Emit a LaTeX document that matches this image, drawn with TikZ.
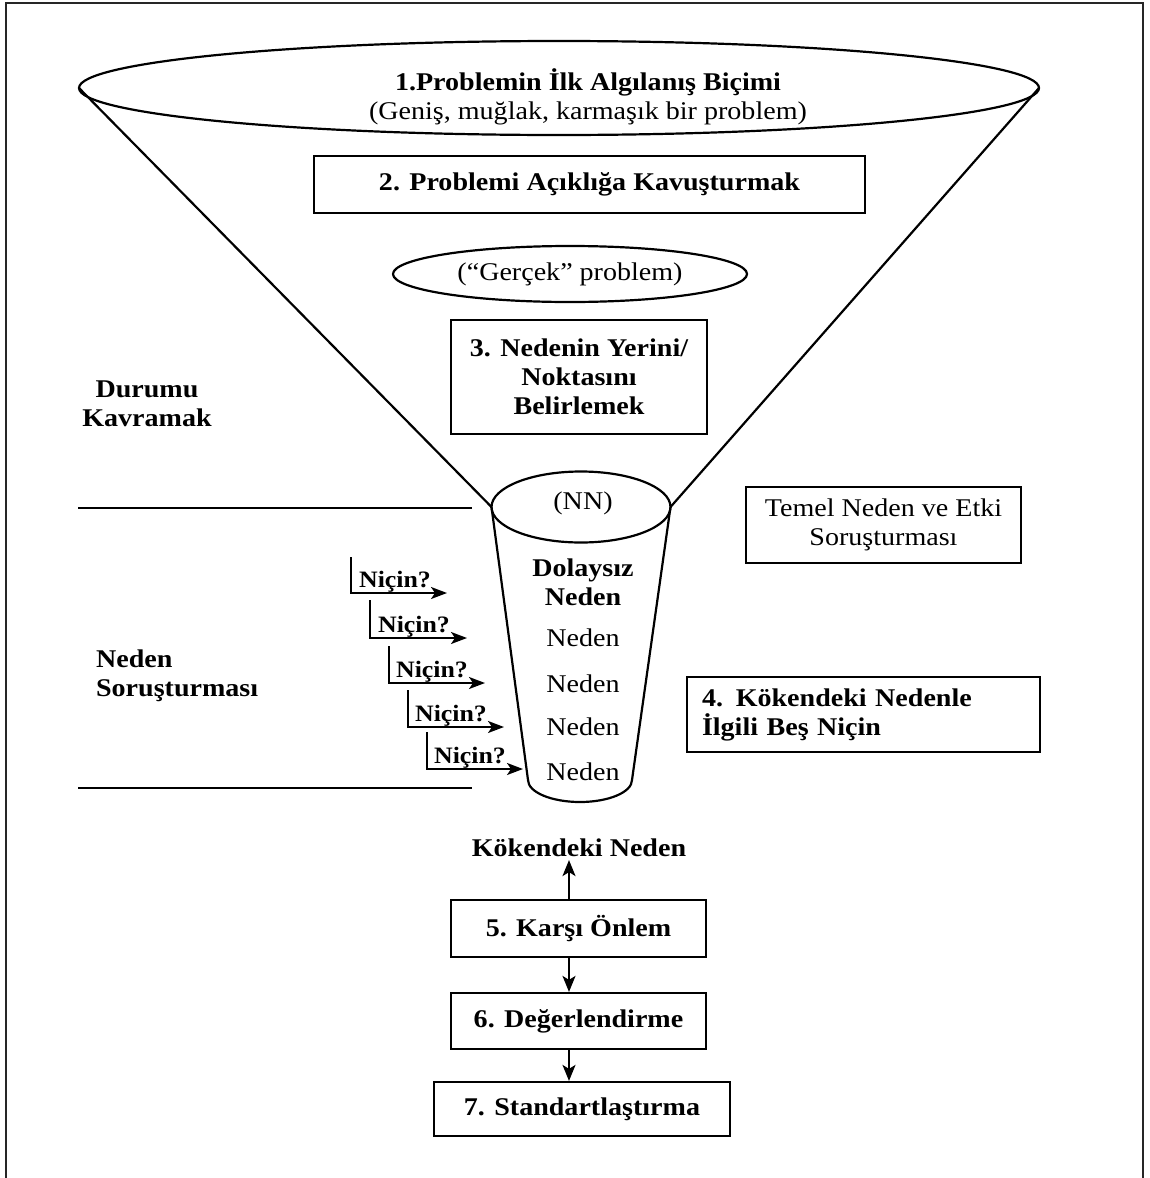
\documentclass[tikz,border=0pt]{standalone}
\usepackage{fontspec}
\setmainfont{Liberation Serif}[FakeStretch=1.1]
\usetikzlibrary{arrows.meta}

\newcommand\dtxt{\fontsize{25.5}{29}\selectfont}
\newcommand\wtxt{\fontsize{23.5}{27}\selectfont}

\begin{document}
\begin{tikzpicture}[x=1pt,y=-1pt,line width=2.2pt,
  plain/.style={inner sep=0pt,align=center,font=\dtxt},
  boldtxt/.style={inner sep=0pt,align=center,font=\dtxt\bfseries},
  box/.style={draw,rectangle,inner sep=0pt,align=center,font=\dtxt\bfseries},
  flow/.style={-{Stealth[length=16pt,width=13pt,inset=4pt]},line width=2pt},
  whyarrow/.style={-{Stealth[length=16pt,width=12pt,inset=4pt]},line width=2pt},
  whytxt/.style={inner sep=0pt,anchor=base west,font=\wtxt\bfseries}]
\useasboundingbox (0,0) rectangle (1150,1178);

% outer frame (open at the bottom)
\draw[line width=1.6pt,black!85] (6,1178) -- (6,3) -- (1143,3) -- (1143,1178);

% funnel: wide rim, slanted walls, narrow cylinder
\coordinate (rimL) at (79,88);
\coordinate (rimR) at (1039,88);
\coordinate (neckL) at (491.5,507);
\coordinate (neckR) at (670.5,507);
\coordinate (baseL) at (528,780);
\draw (559,88) ellipse[x radius=480pt,y radius=47pt];
\draw (rimL) -- (neckL);
\draw (rimR) -- (neckR);
\draw (581,507) ellipse[x radius=89.5pt,y radius=35.5pt];
\draw (neckL) -- (baseL) arc[start angle=180,end angle=360,x radius=52pt,y radius=22pt] -- (neckR);

\node[plain] (first) at (588,97) {{\bfseries 1.Problemin İlk Algılanış Biçimi}\\(Geniş, muğlak, karmaşık bir problem)};

\node[box,minimum width=551pt,minimum height=57pt] (b2) at (589.5,184.5) {2. Problemi Açıklığa Kavuşturmak};

\draw (570,274) ellipse[x radius=177pt,y radius=28pt];
\node[plain] (real) at (570,274) {(“Gerçek” problem)};

\node[box,minimum width=256pt,minimum height=114pt] (b3) at (579,377) {3. Nedenin Yerini/\\Noktasını\\Belirlemek};

% texts inside the cylinder
\node[plain] (nn) at (583,503) {(NN)};
\node[boldtxt] (c0) at (583,582) {Dolaysız\\Neden};
\node[plain] (c1) at (583,638) {Neden};
\node[plain] (c2) at (583,684) {Neden};
\node[plain] (c3) at (583,727) {Neden};
\node[plain] (c4) at (583,772) {Neden};

% phase separators and labels on the left
\coordinate (s1a) at (78,508);
\coordinate (s1b) at (472,508);
\coordinate (s2a) at (78,788);
\coordinate (s2b) at (472,788);
\draw (s1a) -- (s1b);
\draw (s2a) -- (s2b);
\node[boldtxt] (phase1) at (147,404) {Durumu\\Kavramak};
\node[boldtxt,align=left,anchor=west] (phase2) at (95,676) {Neden\\Soruşturması};

% the five "why" steps
\coordinate (w1s) at (351,557); \coordinate (w1e) at (447,593);
\coordinate (w2s) at (370,600); \coordinate (w2e) at (467,638);
\coordinate (w3s) at (389,646); \coordinate (w3e) at (485,683);
\coordinate (w4s) at (408,690); \coordinate (w4e) at (504,727);
\coordinate (w5s) at (427,732); \coordinate (w5e) at (523,769);
\draw[whyarrow] (w1s) |- (w1e);
\draw[whyarrow] (w2s) |- (w2e);
\draw[whyarrow] (w3s) |- (w3e);
\draw[whyarrow] (w4s) |- (w4e);
\draw[whyarrow] (w5s) |- (w5e);
\node[whytxt] (q1) at (358,587) {Niçin?};
\node[whytxt] (q2) at (377,632) {Niçin?};
\node[whytxt] (q3) at (395,677) {Niçin?};
\node[whytxt] (q4) at (414,721) {Niçin?};
\node[whytxt] (q5) at (433,763) {Niçin?};

% right-hand boxes
\node[box,font=\dtxt,minimum width=275pt,minimum height=76pt] (rca) at (883.5,525) {Temel Neden ve Etki\\Soruşturması};
\node[box,align=left,minimum width=353pt,minimum height=75pt,text width=323pt,inner xsep=15pt] (b4) at (863.5,714.5) {4. Kökendeki Nedenle\\İlgili Beş Niçin};

% lower chain, connectors run on a common vertical
\coordinate (axis) at (569,0);
\node[boldtxt] (root) at (579,848) {Kökendeki Neden};
\node[box,minimum width=255pt,minimum height=57pt] (b5) at (578.5,928.5) {5. Karşı Önlem};
\node[box,minimum width=255pt,minimum height=56pt] (b6) at (578.5,1021) {6. Değerlendirme};
\node[box,minimum width=296pt,minimum height=54pt] (b7) at (582,1109) {7. Standartlaştırma};
\draw[flow] (b5.north -| axis) -- ([yshift=-2pt]root.south -| axis);
\draw[flow] (b5.south -| axis) -- (b6.north -| axis);
\draw[flow] (b6.south -| axis) -- (b7.north -| axis);
\end{tikzpicture}
\end{document}
